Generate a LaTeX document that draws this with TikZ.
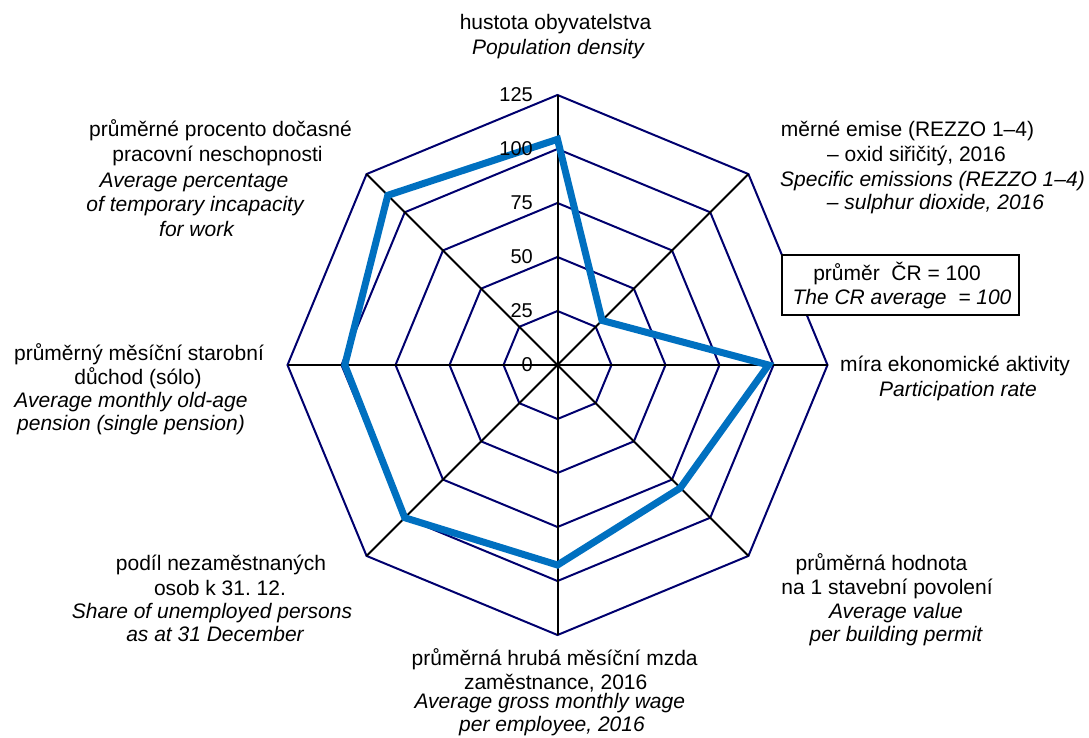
\documentclass[tikz,border=0pt]{standalone}
\usepackage{fontspec}
\setmainfont{Liberation Sans}
\usetikzlibrary{calc}
\definecolor{gridnavy}{RGB}{0,0,110}
\definecolor{datablue}{RGB}{0,112,192}
\frenchspacing
\begin{document}
\begin{tikzpicture}[x=1pt,y=-1pt,
  lbl/.style={anchor=base,inner sep=0pt,font=\fontsize{21}{25}\selectfont},
  lbli/.style={anchor=base,inner sep=0pt,font=\fontsize{21}{25}\selectfont\itshape},
  num/.style={anchor=east,inner sep=0pt,font=\fontsize{20}{24}\selectfont},
  gridline/.style={draw=gridnavy,line width=2pt,line join=miter},
  axisline/.style={draw=black,line width=2pt},
  dataline/.style={draw=datablue,line width=7pt,line join=miter},
  boxstyle/.style={draw=black,line width=1.5pt,fill=white,minimum width=237pt,minimum height=60pt,inner sep=0pt}
]
\useasboundingbox (0,0) rectangle (1089,738);
\coordinate (O) at (557.5,365);

% rings
\begin{scope}[shift={(557.5,365)}]
\foreach \v in {25,50,75,100,125}{
  \pgfmathsetmacro\r{\v*2.16}
  \draw[gridline] (-90:\r) -- (-45:\r) -- (0:\r) -- (45:\r) -- (90:\r) -- (135:\r) -- (180:\r) -- (225:\r) -- cycle;
}
\end{scope}

% axes
\foreach \a/\n in {-90/a1,-45/a2,0/a3,45/a4,90/a5,135/a6,180/a7,225/a8}{
  \coordinate (\n) at ($(O)+(\a:270)$);
  \draw[axisline] (O) -- (\n);
}

% data
\coordinate (d1) at ($(O)+(-90:225.7)$);
\coordinate (d2) at ($(O)+(-45:63)$);
\coordinate (d3) at ($(O)+(0:211)$);
\coordinate (d4) at ($(O)+(45:173.8)$);
\coordinate (d5) at ($(O)+(90:200)$);
\coordinate (d6) at ($(O)+(135:216)$);
\coordinate (d7) at ($(O)+(180:212.7)$);
\coordinate (d8) at ($(O)+(225:240)$);
\draw[dataline] (d1) -- (d2) -- (d3) -- (d4) -- (d5) -- (d6) -- (d7) -- (d8) -- cycle;

% axis numbers
\node[num] (n0) at (533,365) {0};
\node[num] (n25) at (533,311) {25};
\node[num] (n50) at (533,257) {50};
\node[num] (n75) at (533,203) {75};
\node[num] (n100) at (533,149) {100};
\node[num] (n125) at (533,95) {125};

% legend box
\node[boxstyle] (box) at (900.4,285) {};
\node[lbl] (b1) at (897,280.7) {průměr~ ČR = 100};
\node[lbli] (b2) at (902,304.3) {The CR average~ = 100};

% labels
\node[lbl] (t1) at (555.5,30) {hustota obyvatelstva};
\node[lbli] (t2) at (558,55) {Population density};

\node[lbl] (nw1) at (220.5,136.7) {průměrné procento dočasné};
\node[lbl] (nw2) at (217.5,161.7) {pracovní neschopnosti};
\node[lbli] (nw3) at (194,188) {Average percentage};
\node[lbli] (nw4) at (195,211.7) {of temporary incapacity};
\node[lbli] (nw5) at (196.5,236.7) {for work};

\node[lbl] (ne1) at (907.5,136.7) {měrné emise (REZZO 1–4)};
\node[lbl] (ne2) at (916.5,161.7) {– oxid siřičitý, 2016};
\node[lbli] (ne3) at (932.5,186) {Specific emissions (REZZO 1–4)};
\node[lbli] (ne4) at (935.5,210) {– sulphur dioxide, 2016};

\node[lbl] (e1) at (955,371.7) {míra ekonomické aktivity};
\node[lbli] (e2) at (958,396.7) {Participation rate};

\node[lbl] (w1) at (139,360) {průměrný měsíční starobní};
\node[lbl] (w2) at (138,384) {důchod (sólo)};
\node[lbli] (w3) at (131,407.3) {Average monthly old-age};
\node[lbli] (w4) at (131,430) {pension (single pension)};

\node[lbl] (sw1) at (221,570.7) {podíl nezaměstnaných};
\node[lbl] (sw2) at (220,595) {osob k 31. 12.};
\node[lbli] (sw3) at (212,618.3) {Share of unemployed persons};
\node[lbli] (sw4) at (215,641.7) {as at 31 December};

\node[lbl] (s1) at (554.7,665) {průměrná hrubá měsíční mzda};
\node[lbl] (s2) at (555.7,689.3) {zaměstnance, 2016};
\node[lbli] (s3) at (549.8,708.5) {Average gross monthly wage};
\node[lbli] (s4) at (552,731.7) {per employee, 2016};

\node[lbl] (se1) at (881.5,570.7) {průměrná hodnota};
\node[lbl] (se2) at (887,594.3) {na 1 stavební povolení};
\node[lbli] (se3) at (896,618.3) {Average value};
\node[lbli] (se4) at (896,641.7) {per building permit};
\end{tikzpicture}
\end{document}
